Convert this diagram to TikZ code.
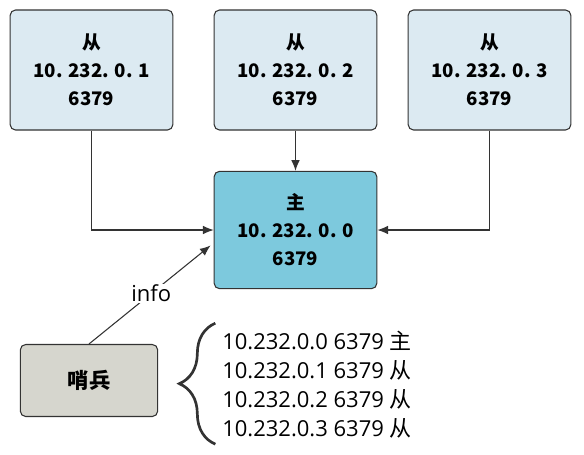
\documentclass[tikz,border=0pt]{standalone}
\usepackage{fontspec}
\setmainfont{Noto Sans CJK SC}
\newfontfamily\latinfont{Open Sans}
\newfontfamily\cjk{Noto Sans CJK SC}
\usetikzlibrary{arrows.meta, decorations.pathreplacing}

\definecolor{slavefill}{HTML}{DCEAF2}
\definecolor{masterfill}{HTML}{7DC9DD}
\definecolor{sentfill}{HTML}{D6D6CE}
\definecolor{linegray}{HTML}{333333}

\tikzset{
  srvbox/.style={draw=linegray, thick, rounded corners=4pt, align=center,
    minimum width=122pt, minimum height=90pt, font=\fontsize{14}{21}\selectfont\bfseries},
  link/.style={-{Latex[length=8pt, width=6.5pt]}, thick, draw=linegray}
}

\begin{document}
\begin{tikzpicture}[x=0.75pt, y=-0.75pt]

\useasboundingbox (0,0) rectangle (584,454);

%%%%%%%%%%%%%%%%%%%%%%%%%%%%%%%%%%%%%%%%%%%%%%%%%%%%%%%%%%%%%%%%
% Slaves
%%%%%%%%%%%%%%%%%%%%%%%%%%%%%%%%%%%%%%%%%%%%%%%%%%%%%%%%%%%%%%%%

\node[srvbox, fill=slavefill] (s1) at (91.5,70) {从\\10. 232. 0. 1\\6379};

\node[srvbox, fill=slavefill] (s2) at (295.5,70) {从\\10. 232. 0. 2\\6379};

\node[srvbox, fill=slavefill] (s3) at (489.5,70) {从\\10. 232. 0. 3\\6379};

%%%%%%%%%%%%%%%%%%%%%%%%%%%%%%%%%%%%%%%%%%%%%%%%%%%%%%%%%%%%%%%%
% Master
%%%%%%%%%%%%%%%%%%%%%%%%%%%%%%%%%%%%%%%%%%%%%%%%%%%%%%%%%%%%%%%%

\node[srvbox, fill=masterfill, minimum height=88pt] (m) at (295.5,230) {主\\10. 232. 0. 0\\6379};

% Edges
\draw[link] (s1.south) |- (m.west);
\draw[link] (s2.south) -- (m.north);
\draw[link] (s3.south) |- (m.east);

%%%%%%%%%%%%%%%%%%%%%%%%%%%%%%%%%%%%%%%%%%%%%%%%%%%%%%%%%%%%%%%%
% Sentinel
%%%%%%%%%%%%%%%%%%%%%%%%%%%%%%%%%%%%%%%%%%%%%%%%%%%%%%%%%%%%%%%%

\node[srvbox, fill=sentfill, minimum width=103pt, minimum height=54pt,
  font=\fontsize{16}{20}\selectfont\bfseries] (sent) at (89,380.5) {哨兵};

\draw[link, shorten >=3pt] (sent.north) -- (m.189)
  node[midway, fill=white, inner sep=1pt, font=\latinfont\fontsize{16.5}{18}\selectfont] (info) {info};

% Known servers
\node[anchor=west, align=left, inner sep=0pt, font=\latinfont\fontsize{16.5}{21.75}\selectfont] (list) at (222,385)
  {10.232.0.0 6379 {\cjk 主}\\10.232.0.1 6379 {\cjk 从}\\10.232.0.2 6379 {\cjk 从}\\10.232.0.3 6379 {\cjk 从}};

\draw[linegray, line width=2pt, decorate, decoration={brace, amplitude=27pt}]
  ([xshift=-5pt, yshift=-4pt]list.south west) -- ([xshift=-5pt, yshift=6pt]list.north west);

\end{tikzpicture}
\end{document}
